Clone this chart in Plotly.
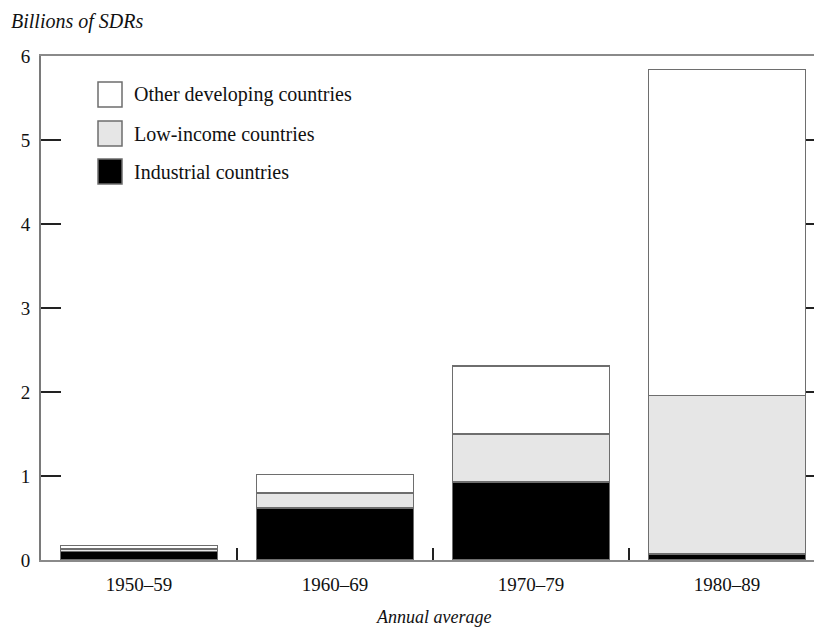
import plotly.graph_objects as go

categories = ["1950–59", "1960–69", "1970–79", "1980–89"]
industrial = [0.10, 0.62, 0.93, 0.07]
low_income = [0.03, 0.18, 0.57, 1.89]
other_dev = [0.04, 0.22, 0.81, 3.88]
series_names = ["Other developing countries", "Low-income countries", "Industrial countries"]
y_ticks = [0, 1, 2, 3, 4, 5, 6]

W, H = 814, 628
ML, MR, MT, MB = 41, 0, 56, 68
PW, PH = W - ML - MR, H - MT - MB

FONT = "Liberation Serif"
EDGE = "#6e6e6e"
colors = {"Other developing countries": "#ffffff",
          "Low-income countries": "#e6e6e6",
          "Industrial countries": "#000000"}

fig = go.Figure()
for name, vals in [("Industrial countries", industrial),
                   ("Low-income countries", low_income),
                   ("Other developing countries", other_dev)]:
    fig.add_trace(go.Bar(x=categories, y=vals, name=name, width=0.8,
                         marker=dict(color=colors[name], line=dict(color=EDGE, width=1.5)),
                         showlegend=False))

totals = [a + b + c for a, b, c in zip(industrial, low_income, other_dev)]
fig.add_trace(go.Scatter(x=categories, y=totals, yaxis="y2", mode="none",
                         showlegend=False, hoverinfo="skip"))

def px_x(p):
    return (p - ML) / PW

def px_y(p):
    return (H - MB - p) / PH

shapes = []
annotations = []
sw_tops = [82, 121, 159]
for name, top in zip(series_names, sw_tops):
    shapes.append(dict(type="rect", xref="paper", yref="paper",
                       x0=px_x(98), x1=px_x(122), y0=px_y(top + 25), y1=px_y(top),
                       fillcolor=colors[name], line=dict(color=EDGE, width=1.5)))
    annotations.append(dict(xref="paper", yref="paper", x=px_x(132), y=px_y(top + 12.5),
                            text=name, showarrow=False, xanchor="left", yanchor="middle",
                            font=dict(family=FONT, size=20, color="#111")))

annotations.append(dict(xref="paper", yref="paper", x=px_x(9), y=px_y(21),
                        text="<i>Billions of SDRs</i>", showarrow=False,
                        xanchor="left", yanchor="middle",
                        font=dict(family=FONT, size=20, color="#111")))
annotations.append(dict(xref="x", yref="paper", x=1.5, y=px_y(617),
                        text="<i>Annual average</i>", showarrow=False,
                        xanchor="center", yanchor="middle",
                        font=dict(family=FONT, size=18, color="#111")))

fig.update_layout(
    width=W, height=H,
    margin=dict(l=ML, r=MR, t=MT, b=MB),
    barmode="stack",
    plot_bgcolor="white", paper_bgcolor="white",
    shapes=shapes, annotations=annotations,
    xaxis=dict(type="category", range=[-0.5, -0.5 + PW / 196.0],
               showline=True, linecolor="#8a8a8a", linewidth=2, mirror=True,
               ticks="inside", ticklen=12, tickwidth=2, tickcolor="#222",
               tickson="boundaries", showgrid=False,
               tickfont=dict(family=FONT, size=19, color="#111"),
               ticklabelstandoff=6),
    yaxis=dict(range=[0, 6], tickvals=y_ticks, showline=True, linecolor="#7a7a7a",
               linewidth=2, ticks="inside", ticklen=20, tickwidth=1.5, tickcolor="#222",
               showgrid=False, zeroline=False,
               tickfont=dict(family=FONT, size=19, color="#111"),
               ticklabelstandoff=5),
    yaxis2=dict(range=[0, 6], overlaying="y", side="right", tickvals=y_ticks[1:-1],
                showline=False, ticks="inside", ticklen=8, tickwidth=1.5, tickcolor="#222",
                showticklabels=False, showgrid=False, zeroline=False),
)

fig.write_html("out.html", config={"displayModeBar": False},
               post_script="document.body.style.margin='0';document.body.style.overflow='hidden';")
